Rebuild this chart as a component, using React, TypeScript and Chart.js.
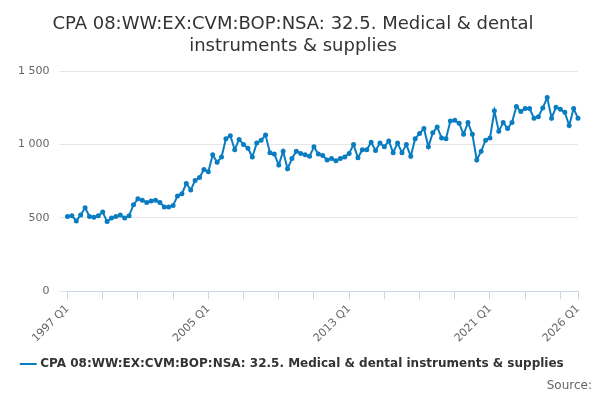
import React, { useEffect, useRef } from "react";
import { Chart, registerables } from "chart.js";
Chart.register(...registerables);

const years: number[] = [];
for (let y = 1997; y <= 2026; y++) years.push(y);
const labels: string[] = [];
years.forEach((y) => [1, 2, 3, 4].forEach((q) => { if (y < 2026 || q === 1) labels.push(`${y} Q${q}`); }));

const values = [
  510, 515, 480, 520, 570, 510, 505, 515, 540, 475, 500, 510, 520, 500, 515, 590,
  630, 620, 605, 615, 620, 605, 575, 575, 585, 650, 665, 735, 690, 755, 775, 830,
  815, 930, 880, 915, 1040, 1060, 965, 1035, 1000, 975, 915, 1010, 1030, 1065, 945, 935,
  860, 955, 835, 905, 955, 940, 930, 920, 985, 935, 925, 895, 905, 890, 905, 915,
  940, 1000, 910, 965, 965, 1015, 960, 1010, 985, 1025, 945, 1010, 945, 1000, 920, 1040,
  1075, 1110, 985, 1080, 1120, 1045, 1040, 1160, 1165, 1145, 1070, 1150, 1070, 895, 955, 1030,
  1045, 1230, 1090, 1150, 1110, 1150, 1260, 1225, 1245, 1245, 1180, 1190, 1250, 1320, 1180, 1255,
  1240, 1220, 1130, 1245, 1180,
];
const seriesName = "CPA 08:WW:EX:CVM:BOP:NSA: 32.5. Medical & dental instruments & supplies";
const yTicks = [0, 500, 1000, 1500];

export default function App() {
  const ref = useRef<HTMLCanvasElement>(null);
  useEffect(() => {
    const last = labels.length - 1;
    const chart = new Chart(ref.current!, {
      type: "line",
      data: {
        labels,
        datasets: [{
          label: seriesName, data: values, borderColor: "#0a7dc2", backgroundColor: "#0a7dc2",
          borderWidth: 2, pointRadius: 1.5, pointHoverRadius: 3, tension: 0,
        }],
      },
      options: {
        animation: false, responsive: false,
        layout: { padding: { left: 0, right: 14, top: 0, bottom: 0 } },
        plugins: {
          title: {
            display: true, text: ["CPA 08:WW:EX:CVM:BOP:NSA: 32.5. Medical & dental", "instruments & supplies"],
            color: "#333", font: { size: 18, family: "DejaVu Sans", weight: "normal" }, padding: { top: 6, bottom: 14 },
          },
          legend: {
            position: "bottom",
            labels: { usePointStyle: true, pointStyle: "line", color: "#333", font: { size: 12, weight: "bold", family: "DejaVu Sans" }, boxWidth: 20 },
          },
          tooltip: { enabled: false },
        },
        scales: {
          x: {
            grid: {
              drawOnChartArea: false, tickLength: 8,
              color: (c: any) => (c.index % 8 === 0 || c.index === last ? "#ccd6eb" : "transparent"),
            },
            border: { color: "#ccd6eb" },
            ticks: {
              autoSkip: false, maxRotation: 45, minRotation: 45, color: "#666", font: { size: 11, family: "DejaVu Sans" },
              callback: (_v: any, i: number) => (i % 32 === 0 || i === last ? labels[i] : ""),
            },
          },
          y: {
            min: 0, max: 1500,
            afterBuildTicks: (ax: any) => { ax.ticks = yTicks.map((v) => ({ value: v })); },
            grid: { color: "#e6e6e6" },
            border: { display: false },
            ticks: { color: "#666", font: { size: 11, family: "DejaVu Sans" }, padding: 10,
              callback: (v: any) => Number(v).toLocaleString("en").replace(/,/g, " ") },
          },
        },
      },
    });
    return () => chart.destroy();
  }, []);
  return (
    <div style={{ position: "relative", width: 584, height: 384 }}>
      <canvas ref={ref} width={584} height={372} style={{ background: "#fff" }} />
      <div style={{ position: "absolute", right: 0, top: 370, fontFamily: "DejaVu Sans", fontSize: 12, color: "#666" }}>Source:</div>
    </div>
  );
}
